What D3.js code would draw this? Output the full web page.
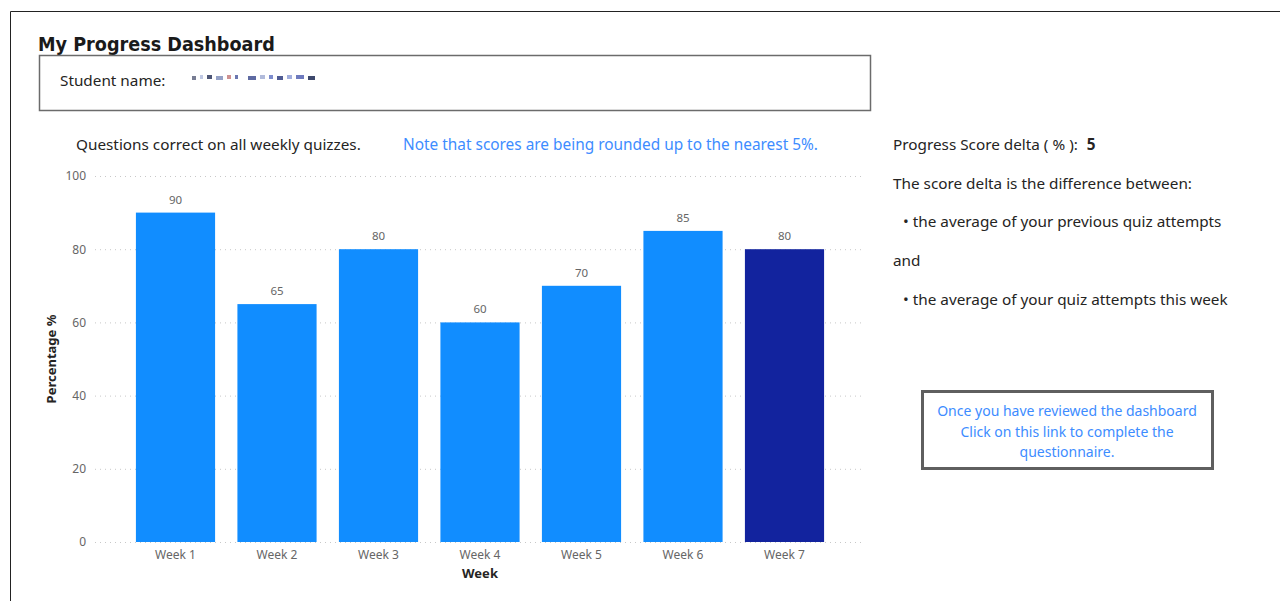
<!DOCTYPE html>
<html>
<head>
<meta charset="utf-8">
<script src="https://cdn.jsdelivr.net/npm/d3@7/dist/d3.min.js"></script>
<style>
  html, body { margin: 0; padding: 0; background: #fff; }
  svg { display: block; }
  .ui { font-family: "Noto Sans", "Open Sans", sans-serif; }
</style>
</head>
<body>
<svg id="dash" width="1280" height="601"></svg>
<script>
// Weekly quiz results
const weeks = ["Week 1", "Week 2", "Week 3", "Week 4", "Week 5", "Week 6", "Week 7"];
const scores = [90, 65, 80, 60, 70, 85, 80];
const yTicks = [0, 20, 40, 60, 80, 100];
const currentWeek = "Week 7";
const scoreDelta = 5;

const infoLines = [
  "The score delta is the difference between:",
  "\u2022 the average of your previous quiz attempts",
  "and",
  "\u2022 the average of your quiz attempts this week"
];
const linkLines = [
  "Once you have reviewed the dashboard",
  "Click on this link to complete the",
  "questionnaire."
];

const svg = d3.select("#dash");
const textDark = "#252423";
const textGray = "#605e5c";
const linkBlue = "#3d8cff";

// page frame
svg.append("path")
  .attr("d", "M10.5,601 V11.5 H1280")
  .attr("fill", "none").attr("stroke", "#222").attr("stroke-width", 1);

// title
svg.append("text")
  .attr("x", 38).attr("y", 51)
  .attr("font-family", "'DejaVu Sans Condensed', 'Liberation Sans Narrow', sans-serif")
  .attr("font-weight", "bold").attr("font-size", 19.6)
  .attr("fill", "#1a1a1a")
  .text("My Progress Dashboard");

// student name card
svg.append("rect")
  .attr("x", 39.5).attr("y", 55.5).attr("width", 831).attr("height", 55)
  .attr("fill", "#fff").attr("stroke", "#6b6b6b").attr("stroke-width", 1.5);
svg.append("text").attr("class", "ui")
  .attr("x", 60).attr("y", 86).attr("font-size", 15.3).attr("fill", textDark)
  .text("Student name:");

// masked name placeholder
const maskWidths = [4, 3, 5, 7, 4, 3, 8, 5, 4, 6, 5, 8, 7];
const maskColors = ["#6a6f88", "#b9c3e0", "#3b4468", "#8a97c0", "#c98686", "#5c69a8", "#4d5a98", "#a9b4d8", "#6f80c8", "#3d4a88", "#98a6da", "#5f6cb8", "#2a355d"];
let mx = 192;
const mask = svg.append("g").attr("opacity", 0.9);
maskWidths.forEach((w, i) => {
  mask.append("rect").attr("x", mx).attr("y", 75 + (i % 3 === 0 ? 1 : 0))
    .attr("width", w).attr("height", 4).attr("fill", maskColors[i]);
  mx += w + (i === 5 ? 10 : 4);
});

// chart captions
svg.append("text").attr("class", "ui")
  .attr("x", 76).attr("y", 150).attr("font-size", 15.3).attr("fill", textDark)
  .text("Questions correct on all weekly quizzes.");
svg.append("text").attr("class", "ui")
  .attr("x", 403).attr("y", 150).attr("font-size", 15.4).attr("fill", linkBlue)
  .text("Note that scores are being rounded up to the nearest 5%.");

// bar chart
const x = d3.scaleBand().domain(weeks).range([124.75, 835.25])
  .paddingInner(0.22).paddingOuter(0.11);
const y = d3.scaleLinear().domain([0, 100]).range([542, 176]);

const chart = svg.append("g").attr("class", "ui");

// dotted gridlines
chart.append("g").selectAll("line").data(yTicks).join("line")
  .attr("x1", 95).attr("x2", 864)
  .attr("y1", d => y(d) + 0.5).attr("y2", d => y(d) + 0.5)
  .attr("stroke", "#c8c8c8").attr("stroke-width", 1)
  .attr("stroke-dasharray", "1,4");

// y axis labels
const yAxis = chart.append("g").attr("transform", "translate(86,0)")
  .call(d3.axisLeft(y).tickValues(yTicks).tickSize(0).tickPadding(0));
yAxis.select(".domain").remove();
yAxis.selectAll("text").attr("font-size", 12).attr("fill", "#666")
  .attr("font-family", "'Noto Sans', sans-serif");

// bars
chart.append("g").selectAll("rect").data(weeks).join("rect")
  .attr("x", d => x(d)).attr("width", x.bandwidth())
  .attr("y", (d, i) => y(scores[i]))
  .attr("height", (d, i) => y(0) - y(scores[i]))
  .attr("fill", d => d === currentWeek ? "#12239e" : "#118dff");

// value labels
chart.append("g").selectAll("text").data(weeks).join("text")
  .attr("x", d => x(d) + x.bandwidth() / 2)
  .attr("y", (d, i) => y(scores[i]) - 9)
  .attr("text-anchor", "middle").attr("font-size", 11.5).attr("fill", "#666")
  .text((d, i) => scores[i]);

// x axis labels
const xAxis = chart.append("g").attr("transform", "translate(0,542)")
  .call(d3.axisBottom(x).tickSize(0).tickPadding(8));
xAxis.select(".domain").remove();
xAxis.selectAll("text").attr("font-size", 12).attr("fill", "#666")
  .attr("font-family", "'Noto Sans', sans-serif");

// axis titles
chart.append("text")
  .attr("x", 480).attr("y", 578).attr("text-anchor", "middle")
  .attr("font-size", 13).attr("font-weight", "bold").attr("fill", textDark)
  .text("Week");
chart.append("text")
  .attr("transform", "translate(56,359) rotate(-90)").attr("text-anchor", "middle")
  .attr("font-size", 13).attr("font-weight", "bold").attr("fill", textDark)
  .text("Percentage %");

// score delta panel
const panel = svg.append("g").attr("class", "ui").attr("font-size", 15.3).attr("fill", textDark);
const deltaText = panel.append("text").attr("x", 893).attr("y", 150);
deltaText.append("tspan").text("Progress Score delta ( % ):");
deltaText.append("tspan").attr("dx", 9).attr("font-weight", "bold").text(scoreDelta);

const lineY = [189, 227, 266, 305];
const lineX = [893, 903, 893, 903];
panel.selectAll("text.info").data(infoLines).join("text").attr("class", "info")
  .attr("x", (d, i) => lineX[i]).attr("y", (d, i) => lineY[i])
  .text(d => d);

// questionnaire link card
svg.append("rect")
  .attr("x", 922.5).attr("y", 391.5).attr("width", 290).attr("height", 77)
  .attr("fill", "#fff").attr("stroke", "#5f5f5f").attr("stroke-width", 3);
svg.append("g").attr("class", "ui").selectAll("text").data(linkLines).join("text")
  .attr("x", 1067).attr("y", (d, i) => 416 + i * 20.5)
  .attr("text-anchor", "middle").attr("font-size", 14).attr("fill", linkBlue)
  .text(d => d);
</script>
</body>
</html>
